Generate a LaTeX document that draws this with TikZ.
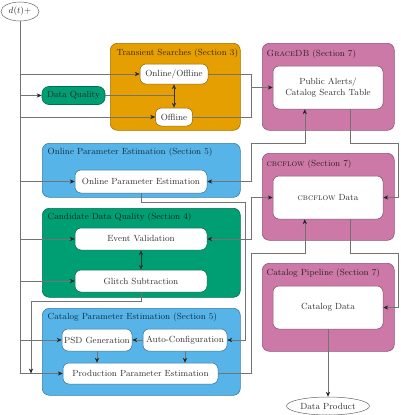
\documentclass[tikz,border=0pt]{standalone}
\usetikzlibrary{arrows.meta,shapes.geometric,calc}
\definecolor{corange}{HTML}{E69F00}
\definecolor{cgreen}{HTML}{009E73}
\definecolor{cblue}{HTML}{56B4E9}
\definecolor{cpink}{HTML}{CC79A7}
\newcommand{\fsz}{\fontsize{8.9}{10.4}\selectfont}
\begin{document}
\begin{tikzpicture}[x=1pt,y=-1pt,
 grp/.style={draw=#1!70!black, fill=#1, rounded corners=7pt, line width=0.6pt, anchor=north west, inner sep=0pt},
 lbl/.style={anchor=west, font=\fsz, text=#1!25!black, inner sep=0pt},
 inbox/.style={draw=#1!60!black, fill=white, rounded corners=6pt, line width=0.5pt, font=\fsz, text=black!80, inner sep=0.5pt, align=center},
 oval/.style={ellipse, draw=black!60, fill=white, line width=0.5pt, font=\fsz, text=black!80, inner sep=0pt},
 conn/.style={draw=black!55, line width=0.55pt},
 tip/.style={Stealth[length=5pt,width=4.2pt,color=black!85]},
 arr/.style={conn, -{Stealth[length=5pt,width=4.2pt,color=black!85]}},
 arrtwo/.style={conn, {Stealth[length=5pt,width=4.2pt,color=black!85]}-{Stealth[length=5pt,width=4.2pt,color=black!85]}},
 dbl/.style={draw=black!80, line width=0.55pt, {Stealth[length=5pt,width=4.2pt]}-{Stealth[length=5pt,width=4.2pt]}},
]
\useasboundingbox (0,0) rectangle (400,415);

% group boxes
\node[grp=corange, minimum width=130pt, minimum height=87pt] (tsb) at (110,43) {};
\node[grp=cpink, minimum width=132pt, minimum height=87pt] (gdbb) at (262,43) {};
\node[grp=cblue, minimum width=198pt, minimum height=54pt] (opeb) at (42,143) {};
\node[grp=cpink, minimum width=132pt, minimum height=87pt] (cbcb) at (262,153) {};
\node[grp=cgreen, minimum width=198pt, minimum height=89pt] (cdqb) at (42,208) {};
\node[grp=cpink, minimum width=132pt, minimum height=88pt] (catb) at (262,263) {};
\node[grp=cblue, minimum width=198pt, minimum height=87pt] (cpeb) at (42,308) {};

% group labels
\node[lbl=corange] (tsl) at (116.5,53.5) {Transient Searches (Section 3)};
\node[lbl=cpink] (gdbl) at (266.5,54) {\textsc{GraceDB} (Section 7)};
\node[lbl=cblue] (opel) at (47.5,152.5) {Online Parameter Estimation (Section 5)};
\node[lbl=cpink] (cbcl) at (266.5,164) {\textsc{cbcflow} (Section 7)};
\node[lbl=cgreen] (cdql) at (47.5,217.5) {Candidate Data Quality (Section 4)};
\node[lbl=cpink] (catl) at (266.5,273.5) {Catalog Pipeline (Section 7)};
\node[lbl=cblue] (cpel) at (47.5,317.5) {Catalog Parameter Estimation (Section 5)};

% nodes
\node[oval, minimum width=38pt, minimum height=19pt] (d) at (20,11.5) {$d(t)+$};
\node[draw=cgreen!70!black, fill=cgreen, rounded corners=7pt, line width=0.6pt, font=\fsz, text=black!85, inner sep=0pt, minimum width=63pt, minimum height=18pt] (dq) at (73.5,95.5) {Data Quality};
\node[inbox=corange, minimum width=68pt, minimum height=20pt] (oo) at (174,74) {Online/Offline};
\node[inbox=corange, minimum width=37pt, minimum height=18pt] (off) at (174,117) {Offline};
\node[inbox=cpink, minimum width=110pt, minimum height=43pt] (pa) at (328,87.5) {Public Alerts/\\Catalog Search Table};
\node[inbox=cblue, minimum width=132pt, minimum height=23pt] (ope) at (141,181.5) {Online Parameter Estimation};
\node[inbox=cpink, minimum width=110pt, minimum height=43pt] (cbcd) at (328,197.5) {\textsc{cbcflow} Data};
\node[inbox=cgreen, minimum width=132pt, minimum height=22pt] (ev) at (141,239) {Event Validation};
\node[inbox=cgreen, minimum width=132pt, minimum height=22pt] (gs) at (141,281) {Glitch Subtraction};
\node[inbox=cpink, minimum width=110pt, minimum height=43pt] (cd) at (328,307.5) {Catalog Data};
\node[inbox=cblue, minimum width=70pt, minimum height=22pt] (psd) at (97,340) {PSD Generation};
\node[inbox=cblue, minimum width=84pt, minimum height=22pt] (ac) at (185,340) {Auto-Configuration};
\node[inbox=cblue, minimum width=155pt, minimum height=21pt] (ppe) at (140.5,373.5) {Production Parameter Estimation};
\node[oval, minimum width=83pt, minimum height=18pt] (dp) at (328,406) {Data Product};

% helper coordinates
\coordinate (mx) at (251,0);
\coordinate (nx) at (245,0);
\coordinate (rx) at (398,0);
\coordinate (gx) at (31,0);
\coordinate (r1) at (0,143);
\coordinate (r2) at (0,202);
\coordinate (r3) at (0,253);
\coordinate (r4) at (0,301.5);
\coordinate (pal) at ($(pa.south west)!0.29!(pa.south east)$);
\coordinate (par) at ($(pa.south west)!0.7!(pa.south east)$);
\coordinate (cbl) at ($(cbcd.south west)!0.29!(cbcd.south east)$);
\coordinate (cbr) at ($(cbcd.south west)!0.7!(cbcd.south east)$);

% trunk
\draw[arr] (d.south) |- (ppe.west);
\draw[arr] (d.south |- oo.west) -- (oo.west);
\draw[arr] (d.south |- dq.west) -- (dq.west);
\draw[arr] (d.south |- off.west) -- (off.west);
\draw[arr] (d.south |- ope.west) -- (ope.west);
\draw[arr] (d.south |- ev.west) -- (ev.west);
\draw[arr] (d.south |- gs.west) -- (gs.west);
\draw[arr] (d.south |- psd.west) -- (psd.west);

% transient searches
\draw[dbl] (oo.south) -- (off.north);
\draw[conn] (dq.east) -- (dq.east -| oo.south);
\draw[conn] (oo.east) -| (mx |- off.east) -- (off.east);
\draw[arr] (mx |- pa.west) -- (pa.west);

% right-side links
\draw[arrtwo] (ope.east) -| (mx |- r1) -| (pal);
\draw[arr] (par) |- (rx |- r1) |- (cbcd.east);
\draw[arrtwo] (ev.east) -| (mx |- cbcd.west) -- (cbcd.west);
\draw[arr] (ope.south) |- (nx |- r2) |- (ac.east);
\draw[arr] (ppe.east) -| (mx |- r3) -| (cbl);
\draw[arr] (cbr) |- (rx |- r3) |- (cd.east);
\draw[arr] (cd.south) -- (dp.north);

% candidate DQ and catalog PE
\draw[dbl] (ev.south) -- (gs.north);
\draw[arr] (gs.south) |- (gx |- r4) -- (gx |- ppe.west);
\draw[arr] (ac.west) -- (psd.east);
\draw[arr] (psd.south) -- (psd.south |- ppe.north);
\draw[arr] (ac.south) -- (ac.south |- ppe.north);
\end{tikzpicture}
\end{document}
